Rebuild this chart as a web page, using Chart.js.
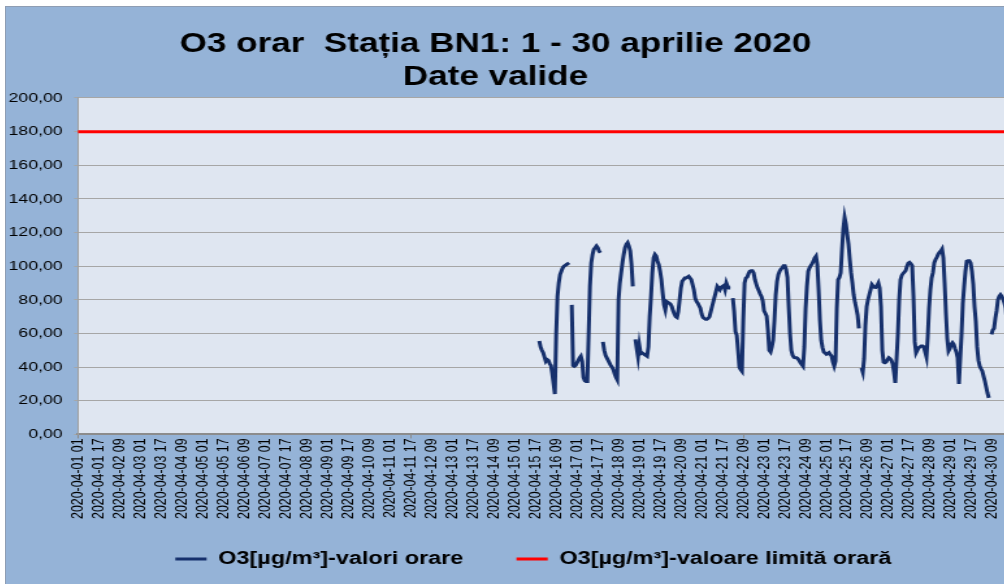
<!DOCTYPE html>
<html>
<head>
<meta charset="utf-8">
<script src="https://cdn.jsdelivr.net/npm/chart.js@4.4.1/dist/chart.umd.min.js"></script>
<style>
  html, body { margin: 0; padding: 0; background: #fff; overflow: hidden; }
  #frame { position: absolute; left: 5px; top: 6px; width: 999px; height: 578px; overflow: hidden;
           border-left: 1px solid #8e9db3; border-top: 1px solid #8e9db3; }
  /* the original picture is stretched sideways, so the canvas is too */
  #stretch { width: 774px; height: 577px; transform: scaleX(1.3); transform-origin: 0 0; }
  canvas { display: block; }
</style>
</head>
<body>
<div id="frame"><div id="stretch"><canvas id="myChart" width="774" height="577"></canvas></div></div>
<script>
// hourly O3 [µg/m³], station BN1, April 2020 (hour 01..24 of each day)
// 1 - 14 April: no valid data
const noDataHours = 14 * 24;
const apr15 = [null, null, null, null, null, null, null, null, null, null, null, null,
               null, null, null, null, null, null, null, 55.5, 52, 50, 48.5, 46];
const apr16 = [43.5, 44.5, 44, 42, 41, 36, 30, 24, 60, 82, 90, 95,
               97, 99, 100, 100.5, 101, 101.5, 102, null, 77, 41, 40.5, 41];
const apr17 = [42.5, 44, 45.5, 46.5, 43.5, 34, 32, 31.5, 31.5, 60, 88, 102,
               107, 110, 111, 112, 111, 109, 108, null, 55, 50, 47, 45.5];
const apr18 = [44, 42.5, 41, 40, 38.5, 36, 34, 32.5, 80, 90, 96, 102,
               107, 111, 113, 114, 112, 109, 101, 88, null, 56.5, 51, 46];
const apr19 = [53, 48, 48.5, 48, 47.5, 47, 46.5, 52, 70, 82, 96, 105,
               107, 106, 103, 101, 97, 92, 84, 77, 74, 79, 78.5, 78];
const apr20 = [77.5, 76, 73.5, 71.5, 70, 69.5, 73, 80, 87, 91, 92, 93,
               93, 93.5, 94, 93, 92, 89, 86, 81, 79, 78, 76.5, 75];
const apr21 = [71.5, 69.5, 69, 68.5, 68.5, 69, 70, 73, 76, 79, 82, 85,
               88, 87, 86, 87.5, 88, 88.5, 86, 90, 88, 87, 87, null];
const apr22 = [81, 73, 61, 59, 50, 40, 38.5, 37.5, 68, 90, 93, 93.5,
               95.5, 97, 97.3, 97.3, 96, 92, 89.4, 87, 85.4, 83.5, 82, 79.4];
const apr23 = [73.4, 72, 70.4, 62, 50, 49, 52, 56, 68, 83, 91, 95,
               97, 98.3, 99, 100.3, 100.3, 98, 93.3, 76, 60, 50, 47, 45.8];
const apr24 = [45.6, 45.6, 45, 44, 42.5, 41.6, 40.6, 52, 75, 88, 97, 99,
               100.3, 101.5, 103, 105, 106, 101, 86, 68, 56, 51.5, 49, 48.3];
const apr25 = [47.6, 48, 48.6, 47.5, 46.6, 43, 40.6, 43.6, 75, 92, 93.3, 96,
               110, 122, 129, 125, 119, 113, 104, 96, 90, 83, 78.5, 75];
const apr26 = [71, 63, null, 39.5, 37, 45, 65, 76, 80, 83, 86, 89,
               88, 87.5, 87.4, 88.5, 90, 87, 76, 50, 43, 42.6, 43, 44.5];
const apr27 = [45.6, 45, 44, 42, 37, 30.6, 45, 59.5, 80, 92, 94.5, 95.7,
               96.5, 97.3, 100, 101.8, 102.3, 101.5, 100.3, 82, 55, 48.5, 50, 51.5];
const apr28 = [52, 52.5, 52.5, 52, 49, 46, 58, 75, 86, 93, 96.3, 102,
               104, 105.3, 107, 108.3, 109, 110.2, 105, 90, 72, 57, 49.6, 51];
const apr29 = [53.5, 54.5, 53.5, 51, 49, 45.6, 30, 45, 59.5, 78, 88, 97,
               103, 103.3, 103.3, 102, 97, 89.4, 76, 67, 52, 44, 40.6, 39];
const apr30 = [37.6, 34.5, 31.6, 28, 24.5, 21.7, null, 59.5, 62, 63, 69, 73.4,
               80, 82, 83, 82, 80.4, 78, 75, 66, 55, 45, 38, 34];

const limitValue = 180;   // hourly limit value
const labelEvery = 16;    // one axis label every 16 hours

const labels = [];
for (let d = 1; d <= 30; d++) {
  for (let h = 1; h <= 24; h++) {
    labels.push('2020-04-' + String(d).padStart(2, '0') + ' ' + String(h).padStart(2, '0'));
  }
}

const o3 = [].concat(new Array(noDataHours).fill(null),
  apr15, apr16, apr17, apr18, apr19, apr20, apr21, apr22,
  apr23, apr24, apr25, apr26, apr27, apr28, apr29, apr30);

const font = 'Liberation Sans, Arial, sans-serif';

const plotBackground = {
  id: 'plotBackground',
  beforeDraw(chart) {
    const {ctx, chartArea: a} = chart;
    ctx.save();
    ctx.fillStyle = '#95b3d7';
    ctx.fillRect(0, 0, chart.width, chart.height);
    ctx.fillStyle = '#dfe6f1';
    ctx.fillRect(a.left, a.top, a.right - a.left, a.bottom - a.top);
    ctx.restore();
  }
};

// the original title and legend are not centred on the same line
const nudgeBlocks = {
  id: 'nudgeBlocks',
  afterLayout(chart) {
    chart.titleBlock.left -= 11.5;
    chart.titleBlock.right -= 11.5;
    chart.legend.left -= 9;
    chart.legend.right -= 9;
  }
};

const data = {
  labels: labels,
  datasets: [
    {
      label: 'O3[µg/m³]-valori orare',
      data: o3,
      borderColor: '#16306c',
      backgroundColor: '#16306c',
      borderWidth: 3,
      pointRadius: 0,
      spanGaps: false
    },
    {
      label: 'O3[µg/m³]-valoare limită orară',
      data: [{x: labels[0], y: limitValue}, {x: labels[labels.length - 1], y: limitValue}],
      borderColor: '#ff0000',
      backgroundColor: '#ff0000',
      borderWidth: 3,
      pointRadius: 0
    }
  ]
};

const options = {
  responsive: false,
  animation: false,
  layout: { padding: { left: 2, right: 0, top: 0, bottom: 6 } },
  plugins: {
    title: {
      display: true,
      text: ['O3 orar  Stația BN1: 1 - 30 aprilie 2020', 'Date valide'],
      color: '#000',
      font: { family: font, size: 27, weight: 'bold', lineHeight: 1.222 },
      padding: { top: 21.5, bottom: 3.5 }
    },
    legend: {
      position: 'bottom',
      fullSize: false,
      labels: {
        usePointStyle: true,
        pointStyle: 'line',
        pointStyleWidth: 24,
        padding: 31,
        color: '#000',
        font: { family: font, size: 18, weight: 'bold' },
        // slightly wider gap after the first entry, as in the original legend
        generateLabels(chart) {
          const items = Chart.defaults.plugins.legend.labels.generateLabels(chart);
          items[0].text += '\u00a0\u00a0';
          return items;
        }
      }
    },
    tooltip: { enabled: false }
  },
  scales: {
    x: {
      grid: {
        drawOnChartArea: false,
        tickLength: 4,
        color: (c) => (c.index % labelEvery === 0 ? '#8c8c8c' : 'rgba(0,0,0,0)')
      },
      border: { color: '#8c8c8c', width: 2 },
      ticks: {
        autoSkip: false,
        minRotation: 90,
        maxRotation: 90,
        padding: 0,
        color: '#000',
        font: { family: font, size: 12.4 },
        callback: (value, index) => (index % labelEvery === 0 ? labels[index] : null)
      }
    },
    y: {
      min: 0,
      max: 200,
      afterFit(scale) { scale.width = 53.4; },
      grid: { color: '#a6a6a6', lineWidth: 1, tickLength: 3 },
      border: { color: '#a0a0a0', width: 1 },
      ticks: {
        stepSize: 20,
        padding: 9,
        color: '#000',
        font: { family: font, size: 13.5 },
        callback: (v) => v.toFixed(2).replace('.', ',')
      }
    }
  }
};

const config = {
  type: 'line',
  data: data,
  options: options,
  plugins: [plotBackground, nudgeBlocks]
};

const myChart = new Chart(document.getElementById('myChart'), config);
</script>
</body>
</html>
